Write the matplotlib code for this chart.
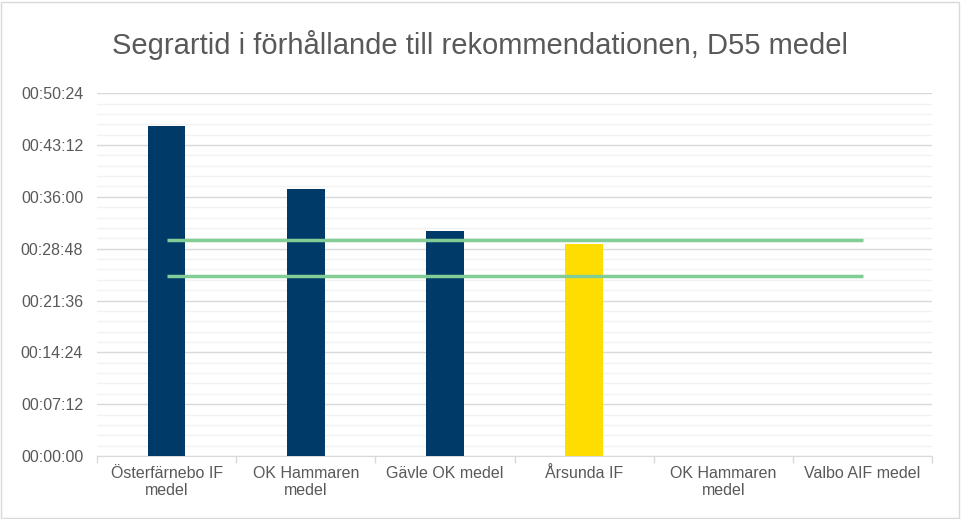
import matplotlib
matplotlib.use("Agg")
import matplotlib.pyplot as plt
import numpy as np
from matplotlib.ticker import FuncFormatter, MultipleLocator, FixedLocator
from matplotlib.patches import Rectangle

plt.rcParams["font.family"] = ["Liberation Sans", "DejaVu Sans"]

# data (seconds)
categories = ["Österfärnebo IF\nmedel", "OK Hammaren\nmedel", "Gävle OK medel",
              "Årsunda IF", "OK Hammaren\nmedel", "Valbo AIF medel"]
winning_time = [45 * 60 + 50, 37 * 60 + 5, 31 * 60 + 13, 29 * 60 + 27, 0, 0]
bar_colors = ["#003A68", "#003A68", "#003A68", "#FFDD00", "#003A68", "#003A68"]
rec_upper = [30 * 60] * 6
rec_lower = [25 * 60] * 6

TEXT = "#595959"


def hms(v, _pos=None):
    v = int(round(v))
    return f"{v // 3600:02d}:{(v % 3600) // 60:02d}:{v % 60:02d}"


fig = plt.figure(figsize=(9.61, 5.19), dpi=100)
fig.patches.append(Rectangle((0.001, 0.002), 0.997, 0.995, transform=fig.transFigure,
                             fill=False, edgecolor="#D9D9D9", linewidth=1.0))
ax = fig.add_axes([0.101, 0.1214, 0.869, 0.699])

x = np.arange(len(categories))
ax.bar(x, winning_time, width=0.27, color=bar_colors, zorder=3)
ax.plot(x, rec_upper, color="#82CC96", linewidth=2.5, zorder=4, solid_capstyle="butt")
ax.plot(x, rec_lower, color="#82CC96", linewidth=2.5, zorder=4, solid_capstyle="butt")

ax.set_xlim(-0.5, len(categories) - 0.5)
ax.set_ylim(0, 3024)
ax.yaxis.set_major_locator(MultipleLocator(432))
ax.yaxis.set_minor_locator(MultipleLocator(432 / 5))
ax.yaxis.set_major_formatter(FuncFormatter(hms))
ax.grid(True, axis="y", which="major", color="#D9D9D9", linewidth=1.0, zorder=0)
ax.grid(True, axis="y", which="minor", color="#F2F2F2", linewidth=1.0, zorder=0)

ax.set_xticks(x)
ax.set_xticklabels(categories, fontsize=11.5, color=TEXT, linespacing=1.15)
ax.xaxis.set_minor_locator(FixedLocator(np.arange(-0.5, len(categories), 1.0)))
ax.tick_params(axis="x", which="major", length=0, pad=7)
ax.tick_params(axis="x", which="minor", length=5, color="#D9D9D9", width=1.0)
ax.tick_params(axis="y", which="both", length=0, labelsize=11.5, labelcolor=TEXT, pad=10)

for s in ("top", "right", "left"):
    ax.spines[s].set_visible(False)
ax.spines["bottom"].set_color("#D9D9D9")

fig.text(0.5, 0.913, "Segrartid i förhållande till rekommendationen, D55 medel",
         ha="center", va="center", fontsize=21, color=TEXT)

fig.savefig("out.png", dpi=100)
